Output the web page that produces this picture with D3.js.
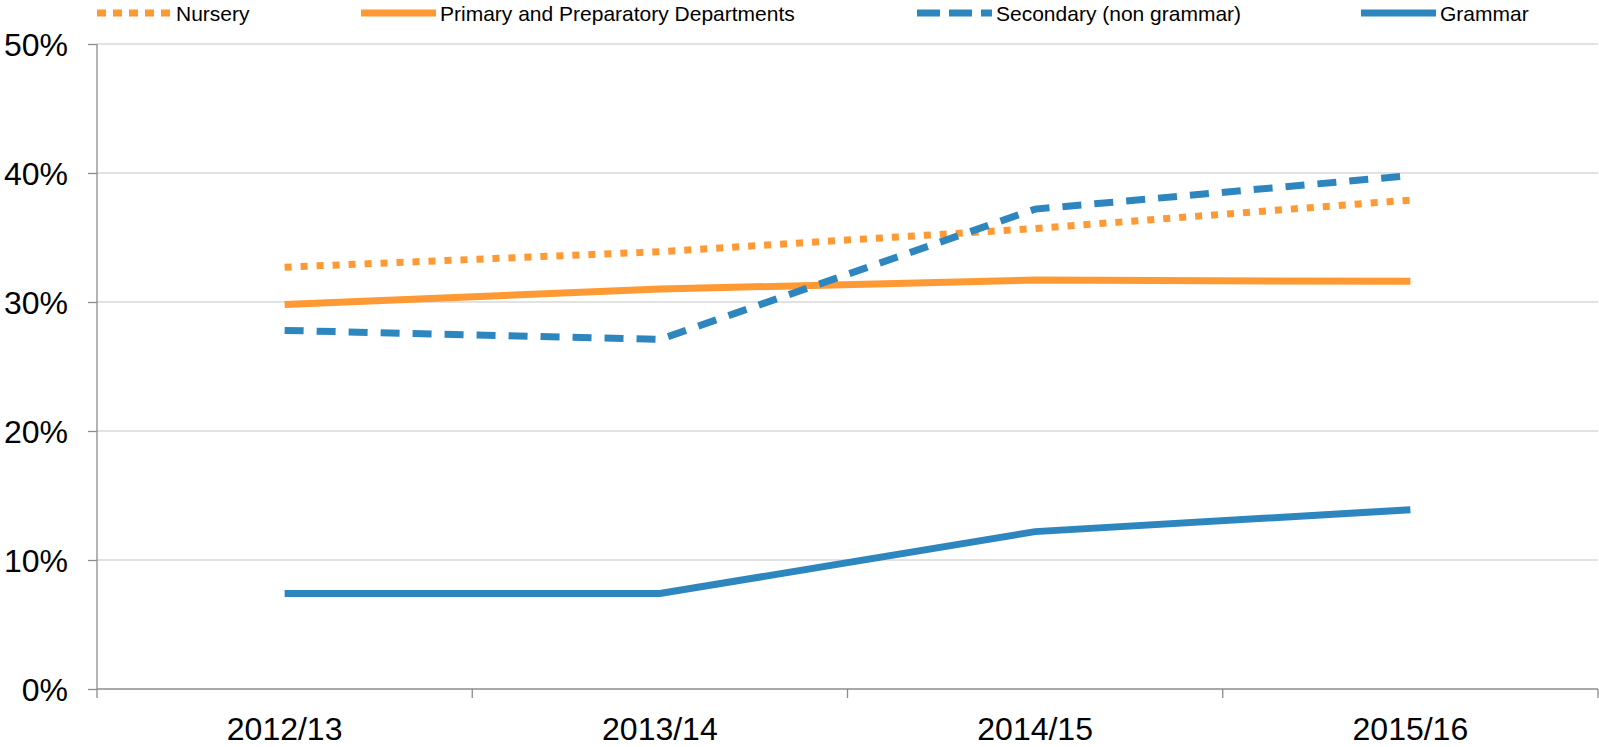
<!DOCTYPE html>
<html>
<head>
<meta charset="utf-8">
<script src="https://cdn.jsdelivr.net/npm/d3@7"></script>
<style>
  body { margin: 0; background: #fff; }
  text { font-family: "Liberation Sans", Arial, sans-serif; fill: #000; }
</style>
</head>
<body>
<svg id="chart" width="1599" height="747"></svg>
<script>
var years = ["2012/13", "2013/14", "2014/15", "2015/16"];
var nursery = [0.327, 0.339, 0.357, 0.379];
var primary = [0.298, 0.310, 0.317, 0.316];
var secondary = [0.278, 0.271, 0.372, 0.398];
var grammar = [0.074, 0.074, 0.122, 0.139];
var yTicks = [0, 0.1, 0.2, 0.3, 0.4, 0.5];

var ORANGE = "#FF9933";
var BLUE = "#2E86BF";

var series = [
  { name: "Nursery", values: nursery, color: ORANGE, dash: "7,9", legendDash: "9,7", lx: 97 },
  { name: "Primary and Preparatory Departments", values: primary, color: ORANGE, dash: null, legendDash: null, lx: 361 },
  { name: "Secondary (non grammar)", values: secondary, color: BLUE, dash: "19,13", legendDash: "23,9", lx: 917 },
  { name: "Grammar", values: grammar, color: BLUE, dash: null, legendDash: null, lx: 1361 }
];

var svg = d3.select("#chart");
var plotLeft = 97, plotRight = 1598, plotTop = 44, plotBottom = 689;

var x = d3.scaleBand().domain(years).range([plotLeft, plotRight]).padding(0);
var y = d3.scaleLinear().domain([0, 0.5]).range([plotBottom, plotTop]);

// gridlines
svg.append("g").selectAll("line")
  .data(yTicks.filter(function(d) { return d > 0; }))
  .enter().append("line")
  .attr("x1", plotLeft).attr("x2", plotRight)
  .attr("y1", function(d) { return y(d); })
  .attr("y2", function(d) { return y(d); })
  .attr("stroke", "#D9D9D9").attr("stroke-width", 1.3);

// y axis
var yAxis = d3.axisLeft(y).tickValues(yTicks).tickSize(9).tickPadding(20)
  .tickFormat(d3.format(".0%"));
var gy = svg.append("g").attr("transform", "translate(" + plotLeft + ",0)").call(yAxis);
gy.select(".domain").remove();
gy.append("line").attr("y1", plotTop).attr("y2", plotBottom);
gy.selectAll("line").attr("stroke", "#8C8C8C").attr("stroke-width", 1.3);
gy.selectAll("text").attr("font-size", 32).attr("dy", "0.36em")
  .style("font-family", "'Liberation Sans', Arial, sans-serif").attr("fill", "#000");

// x axis with ticks at band edges
svg.append("line").attr("x1", plotLeft).attr("x2", plotRight)
  .attr("y1", plotBottom).attr("y2", plotBottom)
  .attr("stroke", "#8C8C8C").attr("stroke-width", 1.3);
var edges = years.map(function(d) { return x(d); }).concat([plotRight]);
svg.append("g").selectAll("line").data(edges).enter().append("line")
  .attr("x1", function(d) { return d; }).attr("x2", function(d) { return d; })
  .attr("y1", plotBottom).attr("y2", plotBottom + 9)
  .attr("stroke", "#8C8C8C").attr("stroke-width", 1.3);
svg.append("g").selectAll("text").data(years).enter().append("text")
  .attr("x", function(d) { return x(d) + x.bandwidth() / 2; })
  .attr("y", 740)
  .attr("text-anchor", "middle")
  .attr("font-size", 32)
  .text(function(d) { return d; });

// lines
var line = d3.line()
  .x(function(d, i) { return x(years[i]) + x.bandwidth() / 2; })
  .y(function(d) { return y(d); });

svg.append("g").selectAll("path").data(series).enter().append("path")
  .attr("d", function(s) { return line(s.values); })
  .attr("fill", "none")
  .attr("stroke", function(s) { return s.color; })
  .attr("stroke-width", 7)
  .attr("stroke-dasharray", function(s) { return s.dash; });

// legend
var lg = svg.append("g").selectAll("g").data(series).enter().append("g");
lg.append("line")
  .attr("x1", function(s) { return s.lx; })
  .attr("x2", function(s) { return s.lx + 75; })
  .attr("y1", 13).attr("y2", 13)
  .attr("stroke", function(s) { return s.color; })
  .attr("stroke-width", 7)
  .attr("stroke-dasharray", function(s) { return s.legendDash; });
lg.append("text")
  .attr("x", function(s) { return s.lx + 79; })
  .attr("y", 21)
  .attr("font-size", 21)
  .text(function(s) { return s.name; });
</script>
</body>
</html>
